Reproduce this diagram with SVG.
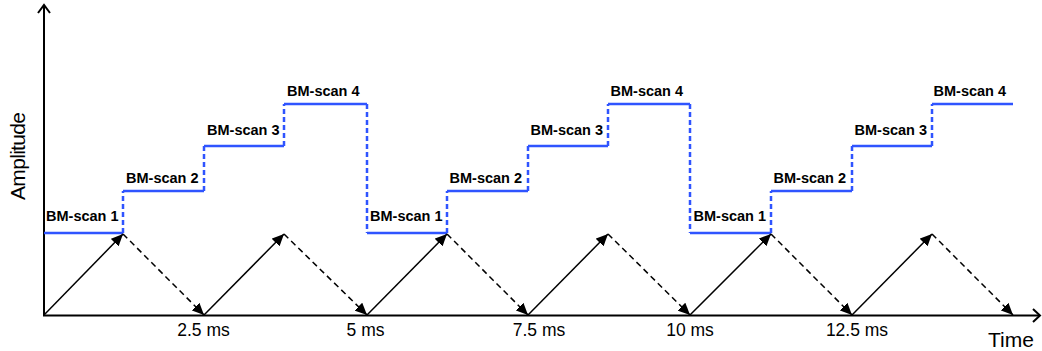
<svg xmlns="http://www.w3.org/2000/svg" width="1042" height="351" viewBox="0 0 1042 351">
<style>
.ax{stroke:#000;stroke-width:2;fill:none}
.lvl{stroke:#2f54ff;stroke-width:2.5;fill:none}
.step{stroke:#2f54ff;stroke-width:2.5;fill:none;stroke-dasharray:5 3}
.up{stroke:#000;stroke-width:1.5;fill:none;marker-end:url(#ah)}
.down{stroke:#000;stroke-width:1.5;fill:none;stroke-dasharray:6 4;marker-end:url(#ah)}
.lb{font-family:"Liberation Sans",Arial,sans-serif;font-weight:bold;font-size:14.5px;fill:#000}
.tk{font-family:"Liberation Sans",Arial,sans-serif;font-size:17.5px;fill:#000;text-anchor:middle}
.at{font-family:"Liberation Sans",Arial,sans-serif;font-size:21px;fill:#000}
</style>
<defs>
<marker id="ah" markerUnits="userSpaceOnUse" markerWidth="13" markerHeight="11" refX="12" refY="5.5" orient="auto">
<path d="M0,0 L12,5.5 L0,11 z" fill="#000"/>
</marker>
</defs>
<g id="axes">
<path class="ax" d="M44,316 V5"/>
<path class="ax" d="M38,13 L44,5 L50,13"/>
<path class="ax" d="M43,315.5 H1040"/>
<path class="ax" d="M1033,309 L1040,315.5 L1033,322"/>
<text class="at" x="988" y="347">Time</text>
<text class="at" transform="translate(25,156) rotate(-90)" text-anchor="middle" textLength="88">Amplitude</text>
</g>
<g id="ticks">
<text class="tk" x="203.5" y="336">2.5 ms</text>
<text class="tk" x="365.5" y="336">5 ms</text>
<text class="tk" x="539" y="336">7.5 ms</text>
<text class="tk" x="690" y="336">10 ms</text>
<text class="tk" x="857" y="336">12.5 ms</text>
</g>
<g id="signal">
<path class="lvl" d="M44,233 H123 M123,191 H204 M204,146 H284 M284,104 H367 M367,233 H447 M447,191 H528 M528,146 H608 M608,104 H690 M690,233 H771 M771,191 H852 M852,146 H932 M932,104 H1013"/>
<path class="step" d="M123,233 V191 M204,191 V146 M284,146 V104 M367,104 V233 M447,233 V191 M528,191 V146 M608,146 V104 M690,104 V233 M771,233 V191 M852,191 V146 M932,146 V104"/>
</g>
<g id="connectors">
<line class="up" x1="44" y1="315" x2="123" y2="234"/>
<line class="down" x1="123" y1="234" x2="204" y2="315"/>
<line class="up" x1="204" y1="315" x2="284" y2="234"/>
<line class="down" x1="284" y1="234" x2="367" y2="315"/>
<line class="up" x1="367" y1="315" x2="447" y2="234"/>
<line class="down" x1="447" y1="234" x2="528" y2="315"/>
<line class="up" x1="528" y1="315" x2="608" y2="234"/>
<line class="down" x1="608" y1="234" x2="690" y2="315"/>
<line class="up" x1="690" y1="315" x2="771" y2="234"/>
<line class="down" x1="771" y1="234" x2="852" y2="315"/>
<line class="up" x1="852" y1="315" x2="932" y2="234"/>
<line class="down" x1="932" y1="234" x2="1013" y2="315"/>
</g>
<g id="labels">
<text class="lb" x="46" y="221">BM-scan 1</text>
<text class="lb" x="126" y="183">BM-scan 2</text>
<text class="lb" x="207" y="134.5">BM-scan 3</text>
<text class="lb" x="287" y="95.5">BM-scan 4</text>
<text class="lb" x="370" y="221">BM-scan 1</text>
<text class="lb" x="449.5" y="183">BM-scan 2</text>
<text class="lb" x="530.5" y="134.5">BM-scan 3</text>
<text class="lb" x="610.5" y="95.5">BM-scan 4</text>
<text class="lb" x="693.5" y="221">BM-scan 1</text>
<text class="lb" x="773.5" y="183">BM-scan 2</text>
<text class="lb" x="854.5" y="134.5">BM-scan 3</text>
<text class="lb" x="933.5" y="95.5">BM-scan 4</text>
</g>
</svg>
